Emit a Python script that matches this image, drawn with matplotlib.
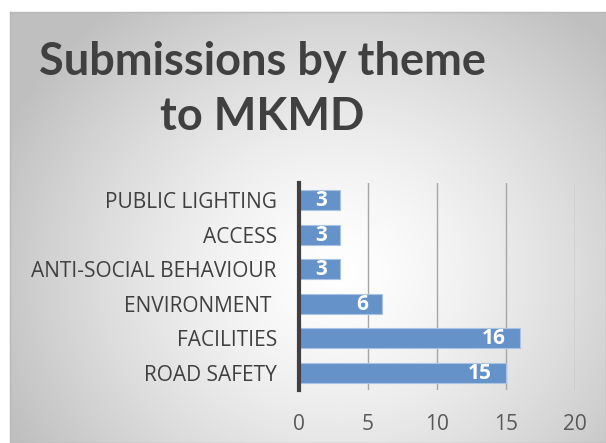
import numpy as np
import matplotlib
matplotlib.use("Agg")
import matplotlib.pyplot as plt

categories = ["ROAD SAFETY", "FACILITIES", "ENVIRONMENT ", "ANTI-SOCIAL BEHAVIOUR", "ACCESS", "PUBLIC LIGHTING"]
values = [15, 16, 6, 3, 3, 3]
xticks = [0, 5, 10, 15, 20]
title_lines = ["Submissions by theme", "to MKMD"]

W, H = 606, 443
fig = plt.figure(figsize=(W / 100, H / 100), dpi=100)
fig.patch.set_facecolor("white")

# gradient panel background
bg = fig.add_axes([10 / W, 0, (W - 10) / W, (H - 12) / H])
bg.set_zorder(-10)
ny, nx = 200, 300
yy, xx = np.mgrid[0:ny, 0:nx]
cx, cy = 0.55 * nx, 0.60 * ny
r = np.sqrt(((xx - cx) / nx) ** 2 + ((yy - cy) / ny * 0.8) ** 2)
r = np.clip(r / 0.62, 0, 1)
g = 1.0 - 0.25 * r ** 1.4
img = np.dstack([g, g, g])
bg.imshow(img, aspect="auto", extent=[0, 1, 0, 1], origin="upper", interpolation="bicubic")
bg.set_xlim(0, 1)
bg.set_ylim(0, 1)
for s in bg.spines.values():
    s.set_color("#b8b8b8")
    s.set_linewidth(1.0)
bg.set_xticks([])
bg.set_yticks([])

# main axes
left, right, top, bottom = 299, 575, 183, 390
ax = fig.add_axes([left / W, (H - bottom) / H, (right - left) / W, (bottom - top) / H])
ax.set_facecolor("none")
y = np.arange(len(categories))
bars = ax.barh(y, values, height=0.58, color="#6592C8", edgecolor="#a9c3e3", linewidth=0.8, zorder=3)
ax.set_xlim(0, 20)
ax.set_ylim(-0.5, 5.5)
ax.set_xticks(xticks)
ax.set_xticklabels([str(t) for t in xticks])
ax.set_yticks(y)
ax.set_yticklabels(categories)
ax.tick_params(axis="x", length=0, pad=17, labelsize=15, labelcolor="#595959")
ax.tick_params(axis="y", length=0, pad=16, labelsize=15, labelcolor="#404040")
for lab in ax.get_xticklabels() + ax.get_yticklabels():
    lab.set_fontfamily("Open Sans")
for t in [5, 10, 15, 20]:
    ax.axvline(t, color="#a6a6a6", linewidth=1.0, zorder=1)
for s in ["top", "right", "bottom"]:
    ax.spines[s].set_visible(False)
ax.spines["left"].set_color("#404040")
ax.spines["left"].set_linewidth(3)
ax.spines["left"].set_zorder(4)

for b, v in zip(bars, values):
    ax.annotate(str(v), xy=(v, b.get_y() + b.get_height() / 2), xytext=(-10, -0.5),
                textcoords="offset points", ha="right", va="center",
                color="white", fontweight="bold", fontsize=15, fontfamily="Open Sans", zorder=5)

fig.text(262 / W, 1 - 75 / H, title_lines[0], ha="center", va="baseline",
         fontsize=32.5, fontweight="bold", color="#404040", fontfamily="Lato")
fig.text(262 / W, 1 - 130 / H, title_lines[1], ha="center", va="baseline",
         fontsize=32.5, fontweight="bold", color="#404040", fontfamily="Lato")

fig.savefig("out.png", dpi=100, facecolor="white")
